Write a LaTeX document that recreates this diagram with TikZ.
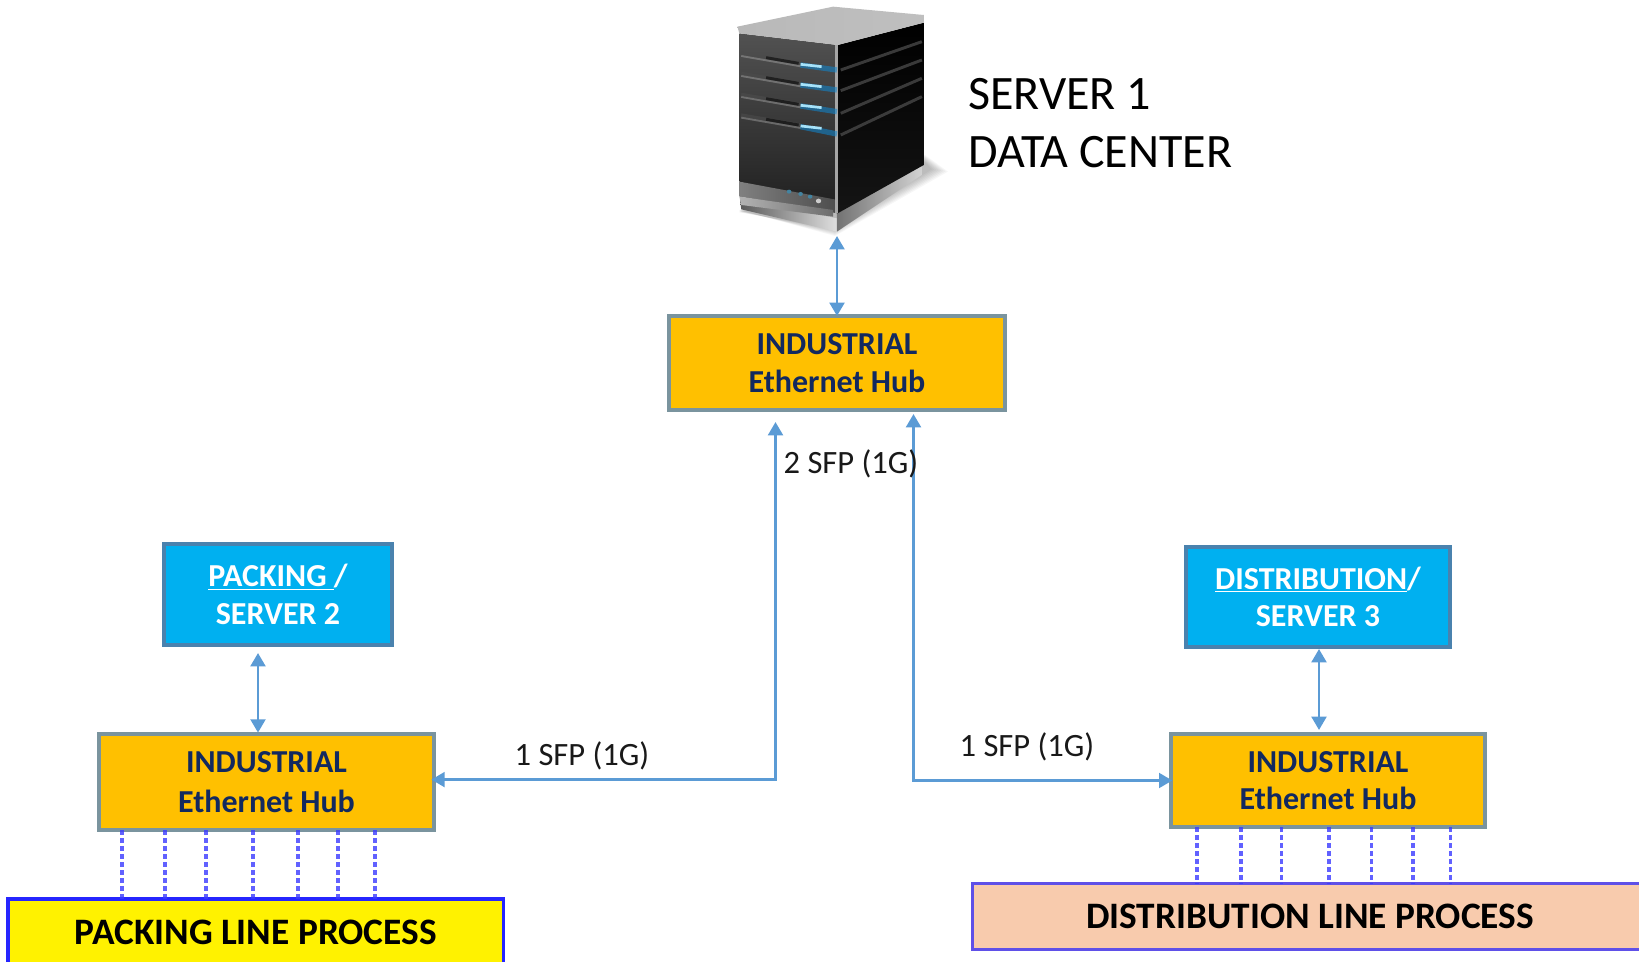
\documentclass[tikz,border=0pt]{standalone}
\usepackage{fontspec}
\setmainfont{Carlito}
\usetikzlibrary{arrows.meta,calc}
\definecolor{hubfill}{HTML}{FFC000}
\definecolor{hubedge}{HTML}{7A949E}
\definecolor{srvfill}{HTML}{00B0F0}
\definecolor{srvedge}{HTML}{4A82AE}
\definecolor{navytext}{HTML}{12295F}
\definecolor{linkblue}{HTML}{5B9BD5}
\definecolor{dotblue}{HTML}{3A3AFF}
\definecolor{peach}{HTML}{F8CBAD}
\definecolor{peachedge}{HTML}{5F50E8}
\tikzset{
  x=0.75pt,y=-0.75pt,
  boxbase/.style={rectangle,draw,line width=2.5pt,inner sep=0pt,align=center,outer sep=0pt},
  hubbox/.style={boxbase,fill=hubfill,draw=hubedge,text=navytext,font=\bfseries\fontsize{24}{#1}\selectfont},
  srvbox/.style={boxbase,fill=srvfill,draw=srvedge,text=white,font=\bfseries\fontsize{24}{28}\selectfont},
  linebox/.style={boxbase,font=\bfseries\fontsize{28}{32}\selectfont,text=black},
  sfplabel/.style={font=\fontsize{24.4}{28}\selectfont,text=black!90,inner sep=0pt},
  link/.style={draw=linkblue,line width=2.2pt,{Triangle[length=10pt,width=11pt]}-{Triangle[length=10pt,width=11pt]}},
  dotlink/.style={draw=dotblue,line width=2.6pt,dash pattern=on 3.4pt off 2.6pt,draw opacity=.8},
}
\begin{document}
\begin{tikzpicture}
\useasboundingbox (0,0) rectangle (1639,962);
\clip (0,0) rectangle (1639,962);
\fill[white] (0,0) rectangle (1639,962);

% server icon, drawn directly
\begin{scope}[shift={(680,0)},xscale=0.3827,yscale=0.3333]
  \foreach \k in {0,1,...,7}{
    \fill[black,opacity=.035]
      (155,630+\k) -- (405,708-3*\k) -- (700-6*\k,515-\k) -- (640,465+3*\k) -- cycle;
  }
  \shade[left color=gray!70!black,right color=gray!25] (157,600) -- (410,655) -- (410,695) -- (160,628) -- cycle;
  \shade[left color=gray!90!black,right color=gray!35] (410,640) -- (632,495) -- (632,525) -- (410,695) -- cycle;
  \shade[top color=black,bottom color=black!92!white,shading angle=0]
    (412,135) -- (637,68) -- (637,495) -- (412,640) -- cycle;
  \shade[top color=black!68,bottom color=black!88,middle color=black!78]
    (155,100) -- (412,135) -- (412,640) -- (155,545) -- cycle;
  \shade[left color=black!50,right color=black!70] (155,545) -- (412,600) -- (412,640) -- (155,590) -- cycle;
  \shade[left color=gray!60,right color=gray!85!black] (155,590) -- (400,630) -- (400,650) -- (160,615) -- cycle;
  \shade[left color=gray!55,middle color=gray!12,right color=gray!50]
    (150,80) -- (400,20) -- (637,45) -- (637,68) -- (412,135) -- (155,100) -- cycle;
  \fill[gray!70] (406,135) -- (414,135) -- (414,640) -- (406,640) -- cycle;
  \foreach \b in {190,250,313,375}{
    \draw[line width=2.4pt,draw=black!70,opacity=.6] (160,\b-30) -- (315,\b);
    \draw[line width=2.2pt,draw=black,opacity=.55] (225,\b-17) -- (310,\b);
    \draw[line width=1.4pt,draw=gray!45,opacity=.35] (160,\b-22) -- (315,\b+9);
  }
  \foreach \a/\b/\c in {315/195/210,315/255/270,315/318/335,315/380/402}{
    \draw[line width=4pt,draw=cyan!70!blue,opacity=.55] (\a,\b) -- (410,\c);
    \draw[line width=2pt,draw=cyan!35!white] (\a,\b-2) -- (\a+55,\b+5);
  }
  \foreach \a/\b in {210/125,272/180,340/235,405/290}{
    \draw[line width=2.2pt,draw=gray!60!black,opacity=.75] (420,\a) -- (632,\b);
  }
  \fill[cyan!60!black] (285,575) circle (6) (315,582) circle (6) (340,590) circle (6);
  \fill[white!80!black] (362,603) circle (7);
\end{scope}

% labels
\node[name=srvlabel,anchor=west,align=left,inner sep=0pt,text=black,
  font=\fontsize{36}{43.5}\selectfont] at (968,123) {SERVER 1\\DATA CENTER};

% boxes
\node[hubbox=30,minimum width=252pt,minimum height=70.5pt] (hubT) at (837,363) {\raisebox{-2pt}{INDUSTRIAL}\\Ethernet Hub};
\node[hubbox=33,minimum width=251.25pt,minimum height=72pt] (hubL) at (266.5,782) {\raisebox{-3pt}{INDUSTRIAL}\\Ethernet Hub};
\node[hubbox=31,minimum width=235.5pt,minimum height=69.75pt] (hubR) at (1328,780.5) {\raisebox{-3pt}{INDUSTRIAL}\\Ethernet Hub};
\node[srvbox,minimum width=171pt,minimum height=75.75pt] (pksrv) at (278,594.5) {\underline{PACKING }/\\SERVER 2};
\node[srvbox,minimum width=198pt,minimum height=75pt] (dsrv) at (1318,597) {\underline{DISTRIBUTION}/\\SERVER 3};
\node[linebox,fill=yellow,draw=blue!85!white,minimum width=371.7pt,minimum height=49.5pt] (pkline) at (255.8,932) {PACKING LINE PROCESS};
\node[linebox,fill=peach,draw=peachedge,minimum width=506.25pt,minimum height=49.5pt] (dline) at (1310,916.5) {DISTRIBUTION LINE PROCESS};

% connector ends
\coordinate (srvfoot) at (837,236);
\coordinate (pkfoot) at (258,653);
\coordinate (dfoot) at (1319,649);
\coordinate (tipL) at (775.5,422);
\coordinate (tipR) at (913.5,414);

\draw[link] (srvfoot) -- (srvfoot |- hubT.north);
\draw[link,shorten >=1pt] (pkfoot) -- (pkfoot |- hubL.north);
\draw[link,shorten >=3pt] (dfoot) -- (dfoot |- hubR.north);
\draw[link,shorten <=-2pt] ([yshift=1.8pt]hubL.east) -| (tipL);
\draw[link,shorten >=-1pt] (tipR) |- (hubR.west);

\foreach \x in {122,165,206,253,298,338,375}
  \draw[dotlink] (\x,0 |- hubL.south) -- (\x,0 |- pkline.north);
\foreach \x in {1197,1241,1281.5,1329,1371.6,1413,1450.5}
  \draw[dotlink] (\x,0 |- hubR.south) -- (\x,0 |- dline.north);

\node[sfplabel] (lblT) at (851,464) {2 SFP (1G)};
\node[sfplabel] (lblL) at (582,756) {1 SFP (1G)};
\node[sfplabel] (lblR) at (1027,747) {1 SFP (1G)};
\end{tikzpicture}
\end{document}
